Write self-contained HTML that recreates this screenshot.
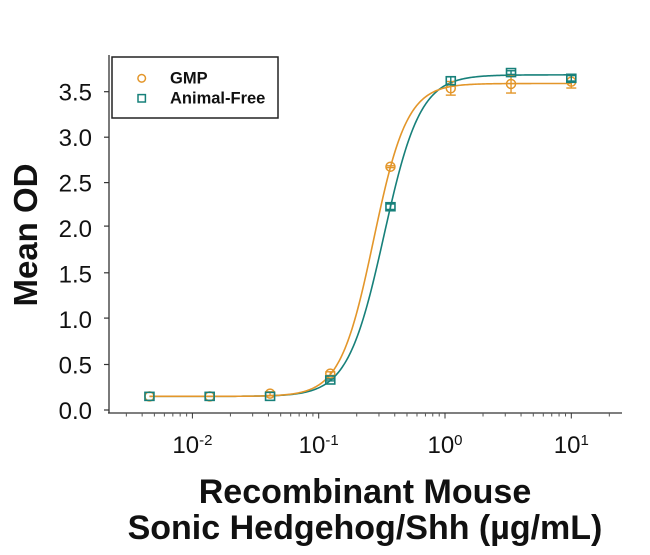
<!DOCTYPE html>
<html>
<head>
<meta charset="utf-8">
<style>
  html, body { margin: 0; padding: 0; background: #fff; }
  svg { display: block; }
  text { font-family: "Liberation Sans", Arial, sans-serif; fill: #111; }
</style>
</head>
<body>
<svg id="chart" width="650" height="555" viewBox="0 0 650 555" xmlns="http://www.w3.org/2000/svg">
  <rect width="650" height="555" fill="#fff"/>

  <!-- axes -->
  <line x1="109" y1="55" x2="109" y2="413.5" stroke="#333" stroke-width="1.3"/>
  <line x1="108" y1="413" x2="622" y2="413" stroke="#333" stroke-width="1.3"/>

  <!-- y ticks -->
  <g stroke="#333" stroke-width="1.2">
    <line x1="104" y1="410" x2="109" y2="410"/>
    <line x1="104" y1="364.5" x2="109" y2="364.5"/>
    <line x1="104" y1="318.1" x2="109" y2="318.1"/>
    <line x1="104" y1="272.8" x2="109" y2="272.8"/>
    <line x1="104" y1="226.1" x2="109" y2="226.1"/>
    <line x1="104" y1="182.6" x2="109" y2="182.6"/>
    <line x1="104" y1="137.2" x2="109" y2="137.2"/>
    <line x1="104" y1="91.7" x2="109" y2="91.7"/>
  </g>
  <g font-size="24" text-anchor="end">
    <text x="92" y="419">0.0</text>
    <text x="92" y="373.5">0.5</text>
    <text x="92" y="328">1.0</text>
    <text x="92" y="282.5">1.5</text>
    <text x="92" y="237">2.0</text>
    <text x="92" y="191.6">2.5</text>
    <text x="92" y="146.2">3.0</text>
    <text x="92" y="100.7">3.5</text>
  </g>

  <!-- x ticks (generated) -->
  <g id="xticks" stroke="#555" stroke-width="1"></g>

  <g font-size="24" text-anchor="middle">
    <text x="192.4" y="453">10<tspan dy="-8" font-size="15">-2</tspan></text>
    <text x="318.7" y="453">10<tspan dy="-8" font-size="15">-1</tspan></text>
    <text x="445" y="453">10<tspan dy="-8" font-size="15">0</tspan></text>
    <text x="571.3" y="453">10<tspan dy="-8" font-size="15">1</tspan></text>
  </g>

  <!-- axis titles -->
  <text transform="translate(37,235) rotate(-90)" text-anchor="middle" font-size="33" font-weight="bold">Mean OD</text>
  <text x="365" y="503" text-anchor="middle" font-size="34" font-weight="bold">Recombinant Mouse</text>
  <text x="365" y="539" text-anchor="middle" font-size="34" font-weight="bold">Sonic Hedgehog/Shh (µg/mL)</text>

  <!-- curves -->
  <path id="cAF" fill="none" stroke="#17807A" stroke-width="1.6"/>
  <path id="cGMP" fill="none" stroke="#E3962A" stroke-width="1.6"/>

  <g id="markers"></g>

  <!-- legend -->
  <rect x="112" y="57" width="166" height="61" fill="#fff" stroke="#222" stroke-width="1.5"/>
  <circle cx="141.7" cy="78.3" r="3.8" fill="none" stroke="#E3962A" stroke-width="1.5"/>
  <rect x="138" y="94.6" width="7.4" height="7.4" fill="none" stroke="#17807A" stroke-width="1.5"/>
  <text x="170" y="83.5" font-size="16.5" font-weight="bold">GMP</text>
  <text x="170" y="103.5" font-size="16.5" font-weight="bold">Animal-Free</text>
</svg>

<script>
(function(){
  var NS = "http://www.w3.org/2000/svg";
  function X(c){ return 445 + Math.log10(c)*126.3; }
  function Y(v){ return 410 - v*90.95; }
  // x ticks
  var g = document.getElementById('xticks');
  for (var d=-3; d<=1; d++){
    for (var k=1; k<=9; k++){
      var c = k*Math.pow(10,d);
      var x = X(c);
      if (x < 109 || x > 622) continue;
      var l = document.createElementNS(NS,'line');
      l.setAttribute('x1',x); l.setAttribute('x2',x);
      l.setAttribute('y1',413); l.setAttribute('y2', k===1 ? 418.5 : 416.5);
      if (k===1) l.setAttribute('stroke','#333');
      g.appendChild(l);
    }
  }
  function fpl(c, b, t, ec, n){ var r = Math.pow(c/ec, n); return b + (t-b)*r/(1+r); }
  function curve(id, b, t, ec, n){
    var d = '';
    var l0 = Math.log10(0.00457), l1 = 1;
    for (var i=0;i<=300;i++){
      var lc = l0 + (l1-l0)*i/300;
      var c = Math.pow(10, lc);
      var v = fpl(c,b,t,ec,n);
      d += (i? 'L':'M') + X(c).toFixed(2) + ' ' + Y(v).toFixed(2);
    }
    document.getElementById(id).setAttribute('d', d);
  }
  curve('cAF', 0.15, 3.685, 0.3285, 3.03);
  curve('cGMP', 0.15, 3.59, 0.272, 3.28);

  var concs = [0.00457, 0.0137, 0.0412, 0.1235, 0.370, 1.111, 3.333, 10];
  var gmp = [0.15, 0.15, 0.18, 0.40, 2.675, 3.537, 3.585, 3.61];
  var gmpErr = [0, 0, 0.02, 0.02, 0.01, 0.075, 0.1, 0.07];
  var af = [0.15, 0.15, 0.15, 0.33, 2.235, 3.62, 3.71, 3.647];
  var afErr = [0, 0, 0, 0.01, 0.03, 0.045, 0.02, 0.03];
  var m = document.getElementById('markers');
  function el(tag, attrs){ var e = document.createElementNS(NS, tag); for (var a in attrs) e.setAttribute(a, attrs[a]); m.appendChild(e); return e; }
  function errbar(x, v, e, col){
    if (e <= 0) return;
    var y1 = Y(v+e), y2 = Y(v-e);
    el('line',{x1:x,x2:x,y1:y1,y2:y2,stroke:col,'stroke-width':1.4});
    el('line',{x1:x-5,x2:x+5,y1:y1,y2:y1,stroke:col,'stroke-width':1.4});
    el('line',{x1:x-5,x2:x+5,y1:y2,y2:y2,stroke:col,'stroke-width':1.4});
  }
  var OR = '#E3962A', TE = '#17807A';
  for (var i=0;i<concs.length;i++){
    var x = X(concs[i]);
    errbar(x, gmp[i], gmpErr[i], OR);
    el('circle',{cx:x, cy:Y(gmp[i]), r:4.5, fill:'none', stroke:OR, 'stroke-width':1.5});
  }
  for (var i=0;i<concs.length;i++){
    var x = X(concs[i]);
    errbar(x, af[i], afErr[i], TE);
    el('rect',{x:x-4.5, y:Y(af[i])-4, width:9, height:8, fill:'none', stroke:TE, 'stroke-width':1.6});
  }
})();
</script>
</body>
</html>
